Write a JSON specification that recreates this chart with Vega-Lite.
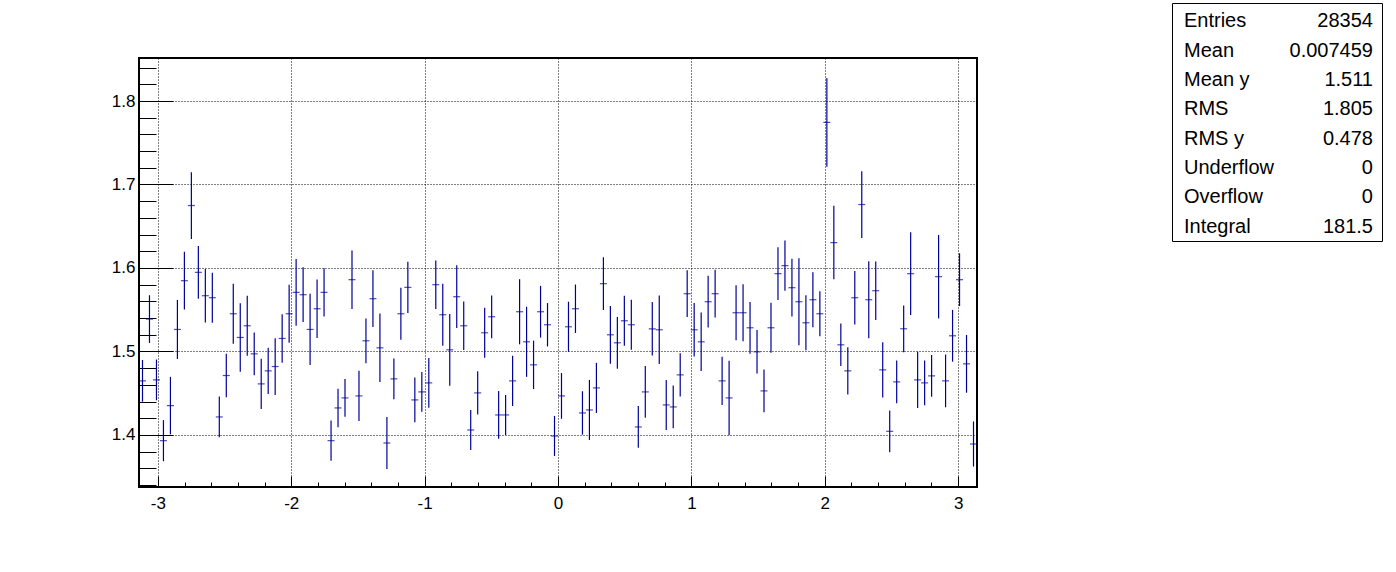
{
  "$schema": "https://vega.github.io/schema/vega-lite/v6.json",
  "background": "white",
  "padding": {"left": 110, "top": 2, "right": 5, "bottom": 5},
  "config": {"font": "Liberation Sans", "axis": {"labelFont": "Liberation Sans"}},
  "datasets": {
    "prof": [
      {"x": -3.11541, "y": 1.4648, "err": 0.025},
      {"x": -3.06305, "y": 1.5388, "err": 0.0286},
      {"x": -3.01069, "y": 1.466, "err": 0.0244},
      {"x": -2.95833, "y": 1.3932, "err": 0.0246},
      {"x": -2.90597, "y": 1.4352, "err": 0.0344},
      {"x": -2.85361, "y": 1.5264, "err": 0.0354},
      {"x": -2.80125, "y": 1.5848, "err": 0.0346},
      {"x": -2.74889, "y": 1.6748, "err": 0.04},
      {"x": -2.69653, "y": 1.5948, "err": 0.0316},
      {"x": -2.64417, "y": 1.5668, "err": 0.032},
      {"x": -2.59181, "y": 1.5644, "err": 0.03},
      {"x": -2.53945, "y": 1.4216, "err": 0.0244},
      {"x": -2.48709, "y": 1.4712, "err": 0.026},
      {"x": -2.43473, "y": 1.5452, "err": 0.036},
      {"x": -2.38237, "y": 1.5168, "err": 0.041},
      {"x": -2.33001, "y": 1.5308, "err": 0.036},
      {"x": -2.27765, "y": 1.4972, "err": 0.0256},
      {"x": -2.22529, "y": 1.4612, "err": 0.03},
      {"x": -2.17293, "y": 1.4768, "err": 0.0276},
      {"x": -2.12058, "y": 1.482, "err": 0.034},
      {"x": -2.06822, "y": 1.5156, "err": 0.029},
      {"x": -2.01586, "y": 1.5452, "err": 0.0346},
      {"x": -1.9635, "y": 1.5708, "err": 0.04},
      {"x": -1.91114, "y": 1.568, "err": 0.0328},
      {"x": -1.85878, "y": 1.5264, "err": 0.0426},
      {"x": -1.80642, "y": 1.5512, "err": 0.035},
      {"x": -1.75406, "y": 1.5708, "err": 0.0288},
      {"x": -1.7017, "y": 1.3932, "err": 0.024},
      {"x": -1.64934, "y": 1.4324, "err": 0.023},
      {"x": -1.59698, "y": 1.4444, "err": 0.0226},
      {"x": -1.54462, "y": 1.586, "err": 0.035},
      {"x": -1.49226, "y": 1.4468, "err": 0.03},
      {"x": -1.4399, "y": 1.5128, "err": 0.0268},
      {"x": -1.38754, "y": 1.5632, "err": 0.034},
      {"x": -1.33518, "y": 1.5044, "err": 0.041},
      {"x": -1.28282, "y": 1.3904, "err": 0.031},
      {"x": -1.23046, "y": 1.4672, "err": 0.0244},
      {"x": -1.1781, "y": 1.5452, "err": 0.031},
      {"x": -1.12574, "y": 1.5768, "err": 0.0306},
      {"x": -1.07338, "y": 1.442, "err": 0.0268},
      {"x": -1.02102, "y": 1.4516, "err": 0.0238},
      {"x": -0.96866, "y": 1.4624, "err": 0.0298},
      {"x": -0.9163, "y": 1.58, "err": 0.029},
      {"x": -0.86394, "y": 1.544, "err": 0.037},
      {"x": -0.81158, "y": 1.502, "err": 0.043},
      {"x": -0.75922, "y": 1.5656, "err": 0.0376},
      {"x": -0.70686, "y": 1.5308, "err": 0.029},
      {"x": -0.6545, "y": 1.406, "err": 0.024},
      {"x": -0.60214, "y": 1.4504, "err": 0.026},
      {"x": -0.54978, "y": 1.5224, "err": 0.03},
      {"x": -0.49742, "y": 1.5416, "err": 0.0256},
      {"x": -0.44506, "y": 1.424, "err": 0.0286},
      {"x": -0.3927, "y": 1.424, "err": 0.024},
      {"x": -0.34034, "y": 1.4648, "err": 0.03},
      {"x": -0.28798, "y": 1.5476, "err": 0.039},
      {"x": -0.23562, "y": 1.5116, "err": 0.042},
      {"x": -0.18326, "y": 1.484, "err": 0.029},
      {"x": -0.1309, "y": 1.5476, "err": 0.031},
      {"x": -0.07854, "y": 1.532, "err": 0.026},
      {"x": -0.02618, "y": 1.3988, "err": 0.024},
      {"x": 0.02618, "y": 1.4468, "err": 0.0274},
      {"x": 0.07854, "y": 1.5296, "err": 0.03},
      {"x": 0.1309, "y": 1.5512, "err": 0.029},
      {"x": 0.18326, "y": 1.4264, "err": 0.026},
      {"x": 0.23562, "y": 1.43, "err": 0.036},
      {"x": 0.28798, "y": 1.4564, "err": 0.03},
      {"x": 0.34034, "y": 1.5812, "err": 0.0316},
      {"x": 0.3927, "y": 1.52, "err": 0.0346},
      {"x": 0.44506, "y": 1.5104, "err": 0.031},
      {"x": 0.49742, "y": 1.5368, "err": 0.03},
      {"x": 0.54978, "y": 1.532, "err": 0.03},
      {"x": 0.60214, "y": 1.4096, "err": 0.025},
      {"x": 0.6545, "y": 1.4516, "err": 0.031},
      {"x": 0.70686, "y": 1.5272, "err": 0.032},
      {"x": 0.75922, "y": 1.526, "err": 0.041},
      {"x": 0.81158, "y": 1.436, "err": 0.03},
      {"x": 0.86394, "y": 1.4336, "err": 0.0256},
      {"x": 0.9163, "y": 1.472, "err": 0.026},
      {"x": 0.96866, "y": 1.5692, "err": 0.028},
      {"x": 1.02102, "y": 1.526, "err": 0.032},
      {"x": 1.07338, "y": 1.5116, "err": 0.035},
      {"x": 1.12574, "y": 1.5596, "err": 0.031},
      {"x": 1.1781, "y": 1.5692, "err": 0.0286},
      {"x": 1.23046, "y": 1.4648, "err": 0.029},
      {"x": 1.28282, "y": 1.4444, "err": 0.0446},
      {"x": 1.33518, "y": 1.5464, "err": 0.033},
      {"x": 1.38754, "y": 1.5464, "err": 0.034},
      {"x": 1.4399, "y": 1.5284, "err": 0.031},
      {"x": 1.49226, "y": 1.4996, "err": 0.026},
      {"x": 1.54462, "y": 1.4528, "err": 0.0256},
      {"x": 1.59698, "y": 1.5284, "err": 0.03},
      {"x": 1.64934, "y": 1.5932, "err": 0.0316},
      {"x": 1.7017, "y": 1.6028, "err": 0.03},
      {"x": 1.75406, "y": 1.5764, "err": 0.0346},
      {"x": 1.80642, "y": 1.5596, "err": 0.052},
      {"x": 1.85878, "y": 1.5344, "err": 0.033},
      {"x": 1.91114, "y": 1.562, "err": 0.033},
      {"x": 1.9635, "y": 1.5452, "err": 0.027},
      {"x": 2.01586, "y": 1.7744, "err": 0.053},
      {"x": 2.06822, "y": 1.6304, "err": 0.044},
      {"x": 2.12058, "y": 1.508, "err": 0.0254},
      {"x": 2.17293, "y": 1.4768, "err": 0.0284},
      {"x": 2.22529, "y": 1.5644, "err": 0.032},
      {"x": 2.27765, "y": 1.676, "err": 0.04},
      {"x": 2.33001, "y": 1.562, "err": 0.046},
      {"x": 2.38237, "y": 1.5728, "err": 0.035},
      {"x": 2.43473, "y": 1.478, "err": 0.033},
      {"x": 2.48709, "y": 1.4044, "err": 0.025},
      {"x": 2.53945, "y": 1.4636, "err": 0.0256},
      {"x": 2.59181, "y": 1.5272, "err": 0.028},
      {"x": 2.64417, "y": 1.5932, "err": 0.0496},
      {"x": 2.69653, "y": 1.466, "err": 0.0336},
      {"x": 2.74889, "y": 1.4624, "err": 0.0268},
      {"x": 2.80125, "y": 1.4708, "err": 0.025},
      {"x": 2.85361, "y": 1.5896, "err": 0.05},
      {"x": 2.90597, "y": 1.4648, "err": 0.0316},
      {"x": 2.95833, "y": 1.5188, "err": 0.031},
      {"x": 3.01069, "y": 1.586, "err": 0.0316},
      {"x": 3.06305, "y": 1.4852, "err": 0.0346},
      {"x": 3.11541, "y": 1.3892, "err": 0.027}
    ],
    "stats": [
      {"k": 1, "stat": "Entries", "val": "28354"},
      {"k": 2, "stat": "Mean", "val": "0.007459"},
      {"k": 3, "stat": "Mean y", "val": "1.511"},
      {"k": 4, "stat": "RMS", "val": "1.805"},
      {"k": 5, "stat": "RMS y", "val": "0.478"},
      {"k": 6, "stat": "Underflow", "val": "0"},
      {"k": 7, "stat": "Overflow", "val": "0"},
      {"k": 8, "stat": "Integral", "val": "181.5"}
    ]
  },
  "hconcat": [
    {
      "vconcat": [
        {
          "width": 838,
          "height": 44,
          "view": {"stroke": null},
          "data": {"values": [{"t": ""}]},
          "mark": {"type": "text"},
          "encoding": {"text": {"field": "t"}}
        },
        {
          "width": 838,
          "height": 429,
          "view": {"stroke": "black", "strokeWidth": 2},
          "data": {"name": "prof"},
          "encoding": {
            "x": {
              "field": "x", "type": "quantitative",
              "scale": {"domain": [-3.14159, 3.14159], "nice": false, "zero": false},
              "axis": {
                "title": null, "domain": false, "grid": true,
                "values": [-3, -2.8, -2.6, -2.4, -2.2, -2, -1.8, -1.6, -1.4, -1.2, -1, -0.8, -0.6, -0.4, -0.2, 0, 0.2, 0.4, 0.6, 0.8, 1, 1.2, 1.4, 1.6, 1.8, 2, 2.2, 2.4, 2.6, 2.8, 3],
                "labelExpr": "abs(datum.value - round(datum.value)) < 1e-6 ? '' + round(datum.value) : ''",
                "labelFontSize": 17, "labelColor": "black", "labelPadding": 19, "labelFlush": false,
                "tickColor": "black", "tickWidth": 1,
                "tickSize": {"condition": {"test": "abs(datum.value - round(datum.value)) < 1e-6", "value": -11}, "value": -5},
                "gridColor": "black", "gridDash": [1, 2], "gridWidth": 1,
                "gridOpacity": {"condition": {"test": "abs(datum.value - round(datum.value)) < 1e-6", "value": 1}, "value": 0}
              }
            },
            "y": {
              "field": "y", "type": "quantitative",
              "scale": {"domain": [1.3377, 1.8515], "nice": false, "zero": false},
              "axis": {
                "title": null, "domain": false, "grid": true,
                "values": [1.34, 1.36, 1.38, 1.4, 1.42, 1.44, 1.46, 1.48, 1.5, 1.52, 1.54, 1.56, 1.58, 1.6, 1.62, 1.64, 1.66, 1.68, 1.7, 1.72, 1.74, 1.76, 1.78, 1.8, 1.82, 1.84],
                "labelExpr": "abs(datum.value*10 - round(datum.value*10)) < 1e-6 ? format(datum.value, '.1f') : ''",
                "labelFontSize": 17, "labelColor": "black", "labelPadding": 38,
                "tickColor": "black", "tickWidth": 1,
                "tickSize": {"condition": {"test": "abs(datum.value*10 - round(datum.value*10)) < 1e-6", "value": -34}, "value": -17},
                "gridColor": "black", "gridDash": [1, 2], "gridWidth": 1,
                "gridOpacity": {"condition": {"test": "abs(datum.value*10 - round(datum.value*10)) < 1e-6", "value": 1}, "value": 0}
              }
            }
          },
          "layer": [
            {
              "mark": {"type": "errorbar", "ticks": false, "color": "#000099", "thickness": 1.2},
              "encoding": {"yError": {"field": "err"}}
            },
            {
              "mark": {"type": "tick", "orient": "horizontal", "color": "#000099", "size": 7, "thickness": 1.2}
            }
          ]
        }
      ],
      "spacing": 10
    },
    {
      "width": 210,
      "height": 238,
      "view": {"stroke": "black", "strokeWidth": 1},
      "data": {"name": "stats"},
      "encoding": {
        "y": {"field": "stat", "type": "ordinal", "sort": {"field": "k"}, "axis": null, "scale": {"type": "point", "padding": 0.56}}
      },
      "layer": [
        {
          "mark": {"type": "text", "align": "left", "baseline": "middle", "dy": 2, "fontSize": 20, "font": "Liberation Sans", "color": "black"},
          "encoding": {
            "x": {"datum": 0.057, "type": "quantitative", "scale": {"domain": [0, 1], "nice": false}, "axis": null},
            "text": {"field": "stat"}
          }
        },
        {
          "mark": {"type": "text", "align": "right", "baseline": "middle", "dy": 2, "fontSize": 20, "font": "Liberation Sans", "color": "black"},
          "encoding": {
            "x": {"datum": 0.957, "type": "quantitative", "axis": null},
            "text": {"field": "val"}
          }
        }
      ]
    }
  ],
  "spacing": 192
}
